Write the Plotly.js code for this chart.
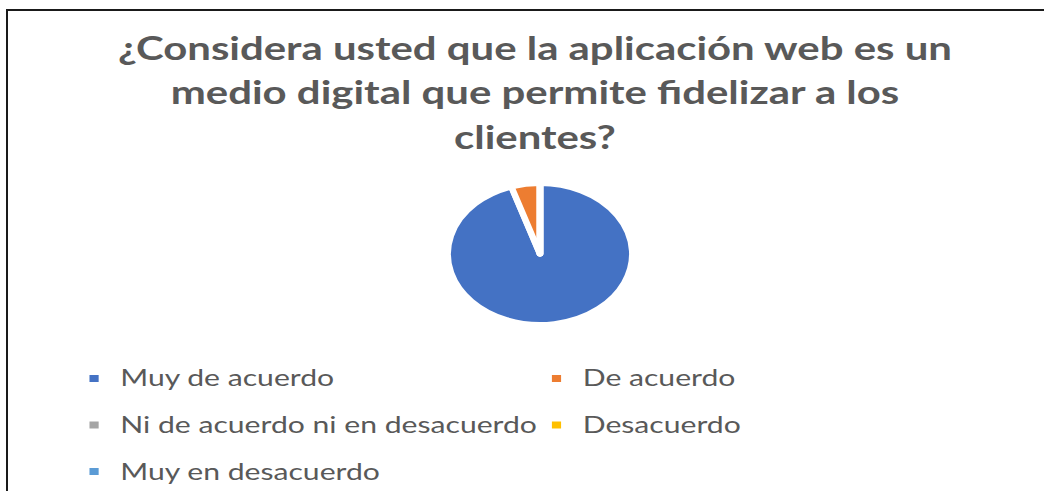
<!DOCTYPE html>
<html>
<head>
<meta charset="utf-8">
<script src="https://cdn.plot.ly/plotly-3.0.1.min.js"></script>
<style>
  html, body { margin: 0; padding: 0; background: #ffffff; overflow: hidden; }
  #wrap { position: absolute; left: 0; top: 0; width: 1044px; height: 491px; overflow: hidden; }
  #chart { position: absolute; left: 0; top: 0; width: 797px; height: 520px; transform: scaleX(1.31); transform-origin: 0 0; }
  #frame { position: absolute; left: 6px; top: 9px; right: -4px; bottom: -4px; border-top: 2px solid #1a1a1a; border-left: 2px solid #1a1a1a; pointer-events: none; }
</style>
</head>
<body>
<div id="wrap">
  <div id="chart"></div>
  <div id="frame"></div>
</div>
<script>
// ---- data ----
const titleLines = ["¿Considera usted que la aplicación web es un", "medio digital que permite fidelizar a los", "clientes?"];
const categories = ["Muy de acuerdo", "De acuerdo", "Ni de acuerdo ni en desacuerdo", "Desacuerdo", "Muy en desacuerdo"];
const percentages = [95, 5, 0, 0, 0];
const sliceColors = ["#4472C4", "#ED7D31", "#A5A5A5", "#FFC000", "#5B9BD5"];

// ---- chart ----
const titleText = titleLines.map(l => '<span style="font-size:32px">' + l + '</span>').join('<br>');
const legendLabels = categories.map(c => '<span style="font-size:23px;baseline-shift:5px">' + c + '</span>');

const trace = {
  type: "pie",
  labels: legendLabels,
  values: percentages,
  marker: { colors: sliceColors, line: { color: "#ffffff", width: 5 } },
  sort: false,
  direction: "clockwise",
  rotation: 0,
  textinfo: "none",
  hoverinfo: "skip",
  domain: { x: [0.4287, 0.6057], y: [0.3760, 0.6471] }
};

const layout = {
  width: 797,
  height: 520,
  margin: { l: 0, r: 0, t: 0, b: 0 },
  paper_bgcolor: "#ffffff",
  plot_bgcolor: "#ffffff",
  font: { family: "Lato, 'Open Sans', sans-serif", color: "#595959" },
  title: {
    text: titleText,
    font: { family: "Lato, 'Open Sans', sans-serif", size: 34.5, color: "#595959", weight: "bold" },
    xref: "container", yref: "container",
    x: 0.5124, xanchor: "center",
    y: 0.8854, yanchor: "top"
  },
  showlegend: true,
  legend: {
    orientation: "h",
    x: 0.0650, xanchor: "left",
    y: 0.3265, yanchor: "top",
    entrywidth: 308,
    font: { family: "Lato, 'Open Sans', sans-serif", size: 33.5, color: "#595959" },
    bgcolor: "rgba(0,0,0,0)",
    traceorder: "normal"
  }
};

Plotly.newPlot("chart", [trace], layout, { staticPlot: true, displayModeBar: false });
</script>
</body>
</html>
